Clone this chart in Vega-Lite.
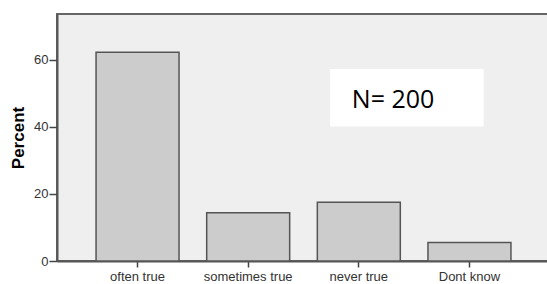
{
  "$schema": "https://vega.github.io/schema/vega-lite/v6.json",
  "autosize": "none",
  "width": 493,
  "height": 247,
  "padding": {"left": 57, "top": 14, "right": 0, "bottom": 23},
  "background": "white",
  "config": {
    "view": {"fill": "#efefef", "stroke": "#666666", "strokeWidth": 2},
    "axis": {"labelFont": "Liberation Sans", "labelFontSize": 13, "labelColor": "#333333", "titleFont": "Liberation Sans", "domainColor": "#555555", "domainWidth": 2, "tickColor": "#444444", "tickWidth": 1.5, "grid": false}
  },
  "layer": [
    {
      "data": {"values": [
        {"response": "often true", "percent": 62.3},
        {"response": "sometimes true", "percent": 14.4},
        {"response": "never true", "percent": 17.5},
        {"response": "Dont know", "percent": 5.5}
      ]},
      "mark": {"type": "bar", "fill": "#cccccc", "stroke": "#555555", "strokeWidth": 1.5},
      "encoding": {
        "x": {"field": "response", "type": "nominal", "sort": null,
              "scale": {"paddingInner": 0.25, "paddingOuter": 0.353},
              "axis": {"title": null, "labelAngle": 0, "tickSize": 6, "labelPadding": 3}},
        "y": {"field": "percent", "type": "quantitative",
              "scale": {"domain": [0, 73.7], "nice": false},
              "axis": {"title": "Percent", "values": [0, 20, 40, 60], "tickSize": 8, "labelPadding": 1,
                       "titleFontSize": 17, "titleFontWeight": "bold", "titleColor": "#000000", "titlePadding": 6}}
      }
    },
    {
      "data": {"values": [{"note": "N= 200"}]},
      "layer": [
        {
          "mark": {"type": "rect", "fill": "#ffffff"},
          "encoding": {
            "x": {"datum": 0.554, "type": "quantitative", "scale": {"domain": [0, 1]}, "axis": null},
            "x2": {"datum": 0.8655},
            "y": {"datum": 57.3, "type": "quantitative"},
            "y2": {"datum": 40.1}
          }
        },
        {
          "mark": {"type": "text", "align": "left", "baseline": "alphabetic", "font": "Open Sans", "fontSize": 25, "color": "#000000"},
          "encoding": {
            "x": {"datum": 0.598, "type": "quantitative", "scale": {"domain": [0, 1]}, "axis": null},
            "y": {"datum": 45.6, "type": "quantitative"},
            "text": {"field": "note"}
          }
        }
      ]
    }
  ],
  "resolve": {"scale": {"x": "independent"}, "axis": {"x": "independent"}}
}
